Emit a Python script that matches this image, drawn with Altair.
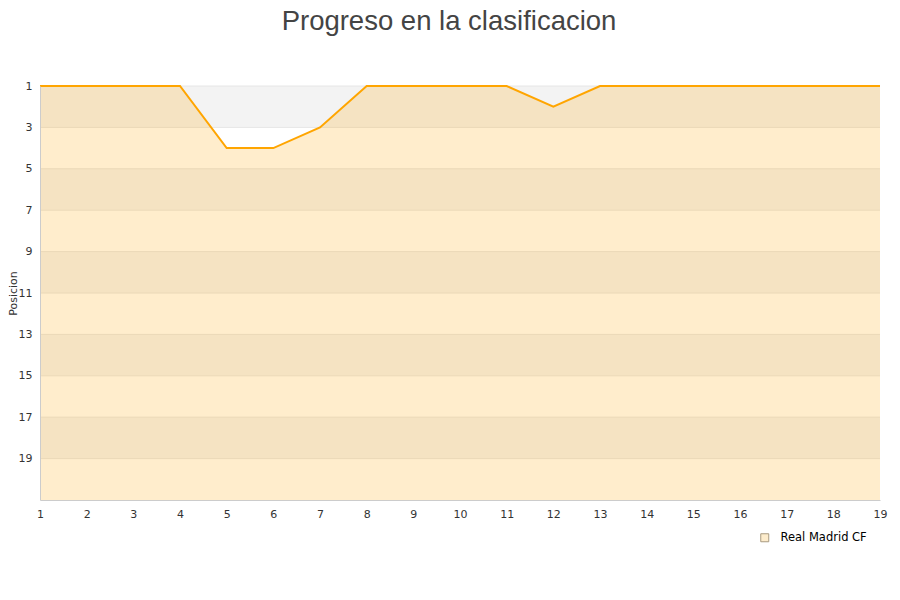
import altair as alt
import pandas as pd

jornadas = list(range(1, 20))
posiciones = [1, 1, 1, 1, 4, 4, 3, 1, 1, 1, 1, 2, 1, 1, 1, 1, 1, 1, 1]
equipo = "Real Madrid CF"
ticks_y = [1, 3, 5, 7, 9, 11, 13, 15, 17, 19]
bandas_inicio = [1, 3, 5, 7, 9, 11, 13, 15, 17, 19]
bandas_fin = [3, 5, 7, 9, 11, 13, 15, 17, 19, 21]
bandas_tipo = ["gris", "blanco"] * 5
fondo = 21

df = pd.DataFrame({"jornada": jornadas, "posicion": posiciones, "equipo": equipo})
bands = pd.DataFrame({"y": bandas_inicio, "y2": bandas_fin, "tipo": bandas_tipo})
grid = pd.DataFrame({"y": ticks_y})

xs = alt.Scale(domain=[1, 19], nice=False, zero=False)
ys = alt.Scale(domain=[1, 21], reverse=True, nice=False, zero=False)

xaxis = alt.Axis(values=jornadas, title=None, grid=False, ticks=False, labelPadding=8,
                 domainColor="#cccccc", labelColor="#333333", labelFontSize=11,
                 labelFont="DejaVu Sans", format="d", zindex=1, labelFlush=False)
yaxis = alt.Axis(values=ticks_y, title="Posicion", grid=False, ticks=False, labelPadding=8,
                 domainColor="#cccccc", labelColor="#333333", labelFontSize=11,
                 labelFont="DejaVu Sans", format="d", zindex=1, titleFont="DejaVu Sans",
                 titleFontSize=11, titleFontWeight="normal", titleColor="#333333",
                 titleX=-22, titleY=207)

bandas = alt.Chart(bands).mark_rect().encode(
    x=alt.value(0), x2=alt.value(840),
    y=alt.Y("y:Q", scale=ys, axis=yaxis),
    y2="y2:Q",
    fill=alt.Fill("tipo:N", scale=alt.Scale(domain=["gris", "blanco"], range=["#f3f3f3", "#ffffff"]), legend=None),
)

rejilla = alt.Chart(grid).mark_rule(color="#e6e6e6", strokeWidth=1).encode(
    y=alt.Y("y:Q", scale=ys, axis=yaxis),
)

area = alt.Chart(df).mark_area(opacity=0.2, color="#FFA500").encode(
    x=alt.X("jornada:Q", scale=xs, axis=xaxis),
    y=alt.Y("posicion:Q", scale=ys, axis=yaxis),
    y2=alt.Y2(datum=fondo),
)

leyenda = alt.Chart(df).mark_square(opacity=0, size=1).encode(
    x=alt.X("jornada:Q", scale=xs, axis=xaxis),
    y=alt.Y("posicion:Q", scale=ys, axis=yaxis),
    color=alt.Color("equipo:N", scale=alt.Scale(domain=[equipo], range=["#fdeccc"]),
                    legend=alt.Legend(title=None, orient="none", legendX=719, legendY=446,
                                      symbolType="square",
                                      symbolStrokeColor="#a89a80", symbolStrokeWidth=1,
                                      symbolSize=64, symbolOpacity=1, labelOffset=10,
                                      labelFont="DejaVu Sans", labelFontSize=11.5,
                                      labelColor="#000000")),
)

linea = alt.Chart(df).mark_line(color="#FFA500", strokeWidth=2).encode(
    x=alt.X("jornada:Q", scale=xs, axis=xaxis),
    y=alt.Y("posicion:Q", scale=ys, axis=yaxis),
)

chart = alt.layer(bandas, rejilla, area, linea, leyenda).properties(
    width=840, height=414,
    title=alt.TitleParams("Progreso en la clasificacion", fontSize=27.5, font="Liberation Sans",
                          fontWeight="normal", color="#444444", anchor="middle", offset=45, dx=-11),
    autosize=alt.AutoSizeParams(type="none"),
    padding={"left": 32, "top": 78, "right": 12, "bottom": 84},
).configure_view(stroke=None)

chart.save("out.html", embed_options={"renderer": "svg", "actions": False})
